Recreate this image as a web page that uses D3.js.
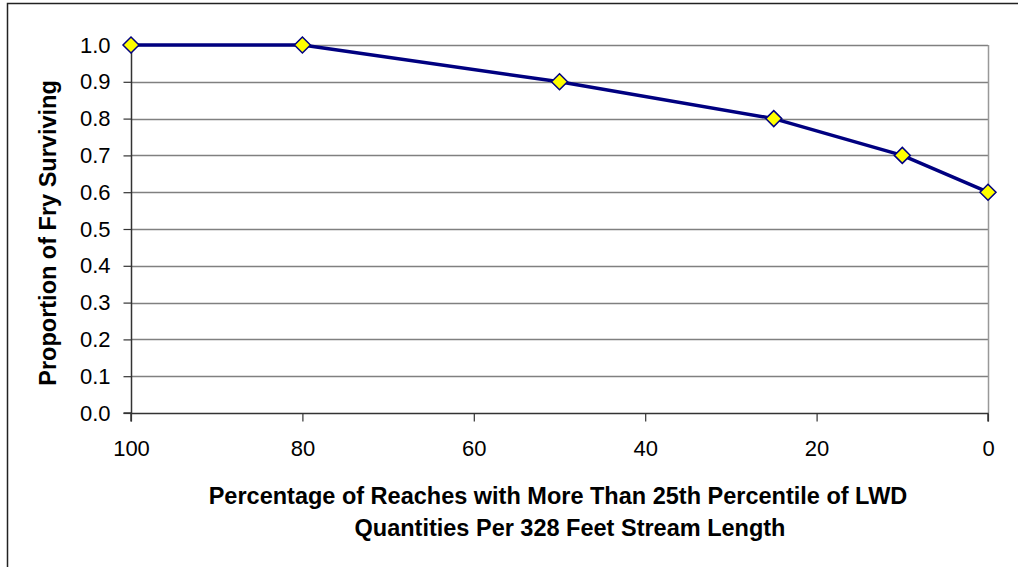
<!DOCTYPE html>
<html>
<head>
<meta charset="utf-8">
<script src="https://cdn.jsdelivr.net/npm/d3@7"></script>
<style>
  body { margin: 0; background: #fff; }
  svg text { font-family: "Liberation Sans", Arial, sans-serif; fill: #000; }
</style>
</head>
<body>
<script>
"use strict";

// data
const percentReaches = [100, 80, 50, 25, 10, 0];
const frySurviving = [1.0, 1.0, 0.9, 0.8, 0.7, 0.6];
const xTicks = [100, 80, 60, 40, 20, 0];
const yTicks = [0, 0.1, 0.2, 0.3, 0.4, 0.5, 0.6, 0.7, 0.8, 0.9, 1.0];
const xTitleLines = [
  "Percentage of Reaches with More Than 25th Percentile of LWD",
  "Quantities Per 328 Feet Stream Length"
];
const yTitle = "Proportion of Fry Surviving";

const width = 1018, height = 567;
const plot = { left: 131, right: 988, top: 45, bottom: 413 };

const svg = d3.select("body").append("svg")
  .attr("width", width)
  .attr("height", height);

// outer chart border (only top/left visible in the frame)
svg.append("rect")
  .attr("x", 7.5).attr("y", 3.5)
  .attr("width", 1100).attr("height", 700)
  .attr("fill", "none")
  .attr("stroke", "#222")
  .attr("stroke-width", 1.5);

const x = d3.scaleLinear().domain([100, 0]).range([plot.left, plot.right]);
const y = d3.scaleLinear().domain([0, 1]).range([plot.bottom, plot.top]);

// gridlines
svg.append("g")
  .selectAll("line")
  .data(yTicks.filter(d => d > 0))
  .enter().append("line")
    .attr("x1", plot.left).attr("x2", plot.right)
    .attr("y1", d => Math.round(y(d)) + 0.5)
    .attr("y2", d => Math.round(y(d)) + 0.5)
    .attr("stroke", "#808080")
    .attr("stroke-width", 1.5);

// right plot border
svg.append("line")
  .attr("x1", plot.right + 0.5).attr("x2", plot.right + 0.5)
  .attr("y1", plot.top).attr("y2", plot.bottom)
  .attr("stroke", "#999")
  .attr("stroke-width", 1.5);

// axes
const xAxis = d3.axisBottom(x).tickValues(xTicks).tickSize(8).tickPadding(16)
  .tickFormat(d3.format("d"));
const yAxis = d3.axisLeft(y).tickValues(yTicks).tickSize(8).tickPadding(13)
  .tickFormat(d3.format(".1f"));

const gx = svg.append("g")
  .attr("transform", `translate(0,${plot.bottom + 0.5})`)
  .call(xAxis);
const gy = svg.append("g")
  .attr("transform", `translate(${plot.left + 0.5},0)`)
  .call(yAxis);

[gx, gy].forEach(g => {
  g.attr("font-size", 22).attr("font-family", "'Liberation Sans', Arial, sans-serif");
  g.select(".domain").attr("stroke", "#333").attr("stroke-width", 1.5);
  g.selectAll(".tick line").attr("stroke", "#333").attr("stroke-width", 1.2);
  g.selectAll(".tick text").attr("fill", "#000");
});
gy.select(".domain").attr("d", `M-8,${plot.bottom}H0V${plot.top}`);
gx.select(".domain").attr("d", `M${plot.left},8V0H${plot.right}V8`);
gx.selectAll(".tick text").attr("dy", "0.85em");

// line
const line = d3.line()
  .x((d, i) => x(percentReaches[i]))
  .y(d => y(d));

svg.append("path")
  .datum(frySurviving)
  .attr("d", line)
  .attr("fill", "none")
  .attr("stroke", "#000080")
  .attr("stroke-width", 3.5)
  .attr("stroke-linejoin", "round");

// diamond markers
svg.append("g")
  .selectAll("path")
  .data(frySurviving)
  .enter().append("path")
    .attr("transform", (d, i) => `translate(${x(percentReaches[i])},${y(d)})`)
    .attr("d", "M0,-8L8,0L0,8L-8,0Z")
    .attr("fill", "#ffff00")
    .attr("stroke", "#000080")
    .attr("stroke-width", 1.5);

// axis titles
svg.append("text")
  .attr("x", 558)
  .attr("y", 504)
  .attr("text-anchor", "middle")
  .attr("font-size", 23.5)
  .attr("font-weight", "bold")
  .selectAll("tspan")
  .data(xTitleLines)
  .enter().append("tspan")
    .attr("x", (d, i) => i === 0 ? 558 : 570)
    .attr("dy", (d, i) => i === 0 ? 0 : 32)
    .text(d => d);

svg.append("text")
  .attr("transform", "translate(56,233) rotate(-90)")
  .attr("text-anchor", "middle")
  .attr("font-size", 23.5)
  .attr("font-weight", "bold")
  .text(yTitle);
</script>
</body>
</html>
